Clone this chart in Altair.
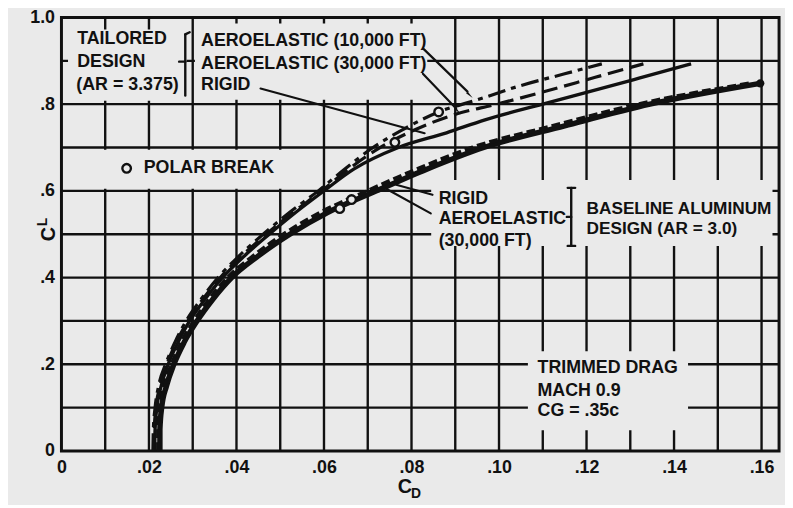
import altair as alt
import pandas as pd

INK = "#111111"
PAPER = "#eaeaea"
FONT = "Liberation Sans"

# ---------------- axes / grid ----------------
x_ticks = [0, 0.02, 0.04, 0.06, 0.08, 0.10, 0.12, 0.14, 0.16]
y_ticks = [0, 0.2, 0.4, 0.6, 0.8, 1.0]
grid_cd = [0.01, 0.02, 0.03, 0.04, 0.05, 0.06, 0.07, 0.08, 0.09, 0.10,
           0.11, 0.12, 0.13, 0.14, 0.15, 0.16]
grid_cl = [0.1, 0.2, 0.3, 0.4, 0.5, 0.6, 0.7, 0.8, 0.9]

# ---------------- drag polars (CD vs CL) ----------------
base_rigid_cl = [0, 0.05, 0.10, 0.15, 0.20, 0.25, 0.30, 0.35, 0.40, 0.45,
                 0.50, 0.55, 0.60, 0.65, 0.70, 0.75, 0.80, 0.848]
base_rigid_cd = [0.0225, 0.0225, 0.0229, 0.0240, 0.0257, 0.0280, 0.0310, 0.0346,
                 0.0389, 0.0450, 0.0522, 0.0608, 0.0720, 0.0835, 0.0965, 0.1150,
                 0.1345, 0.1597]
base_aero_cl = base_rigid_cl
base_aero_cd = [0.0221, 0.0221, 0.0225, 0.0235, 0.0252, 0.0274, 0.0303, 0.0338,
                0.0380, 0.0439, 0.0508, 0.0592, 0.0700, 0.0813, 0.0940, 0.1125,
                0.1320, 0.1575]

tail_rigid_cl = [0, 0.05, 0.10, 0.15, 0.20, 0.25, 0.30, 0.35, 0.40, 0.45, 0.50,
                 0.55, 0.60, 0.65, 0.70, 0.734, 0.764, 0.80, 0.827, 0.86, 0.893]
tail_rigid_cd = [0.0213, 0.0214, 0.0218, 0.0228, 0.0244, 0.0266, 0.0293, 0.0328,
                 0.0368, 0.0418, 0.0475, 0.0535, 0.0600, 0.0668, 0.0770, 0.0880,
                 0.0968, 0.1100, 0.1200, 0.1320, 0.1439]
tail_30k_cl = [0, 0.05, 0.10, 0.15, 0.20, 0.25, 0.30, 0.35, 0.40, 0.45, 0.50,
               0.55, 0.60, 0.65, 0.70, 0.735, 0.775, 0.80, 0.828, 0.862, 0.893]
tail_30k_cd = [0.0211, 0.0212, 0.0216, 0.0225, 0.0241, 0.0262, 0.0289, 0.0323,
               0.0363, 0.0412, 0.0468, 0.0529, 0.0595, 0.0656, 0.0728, 0.0795,
               0.0895, 0.0995, 0.1100, 0.1220, 0.1330]
tail_10k_cl = [0, 0.05, 0.10, 0.15, 0.20, 0.25, 0.30, 0.35, 0.40, 0.45, 0.50,
               0.55, 0.60, 0.65, 0.70, 0.74, 0.782, 0.81, 0.843, 0.87, 0.893]
tail_10k_cd = [0.0209, 0.0210, 0.0214, 0.0222, 0.0238, 0.0259, 0.0285, 0.0319,
               0.0358, 0.0406, 0.0461, 0.0521, 0.0587, 0.0647, 0.0712, 0.0778,
               0.0862, 0.0950, 0.1050, 0.1150, 0.1235]

# polar-break symbols (last one is the legend symbol)
break_cd = [0.0862, 0.0762, 0.0663, 0.0636, 0.0149]
break_cl = [0.782, 0.712, 0.580, 0.559, 0.652]
end_dot_cd = [0.1597]
end_dot_cl = [0.848]

# ---------------- annotation boxes (paper-coloured masks) ----------------
mask_cd = [0.0015, 0.0305, 0.0015, 0.0845, 0.1066]
mask_cd2 = [0.0286, 0.0836, 0.0545, 0.1625, 0.1432]
mask_cl = [0.808, 0.810, 0.605, 0.473, 0.048]
mask_cl2 = [0.972, 0.986, 0.695, 0.625, 0.230]

# leader lines and brace strokes
seg_cd = [0.0828, 0.0826, 0.0455, 0.0848, 0.0844,
          0.0283, 0.0283, 0.0283, 0.1165, 0.1157, 0.1157, 0.1165]
seg_cl = [0.927, 0.870, 0.836, 0.591, 0.548,
          0.961, 0.898, 0.961, 0.607, 0.607, 0.473, 0.540]
seg_cd2 = [0.0928, 0.0902, 0.0830, 0.0765, 0.0742,
           0.0283, 0.0269, 0.0293, 0.1165, 0.1174, 0.1174, 0.1155]
seg_cl2 = [0.829, 0.790, 0.733, 0.614, 0.605,
           0.820, 0.898, 0.966, 0.473, 0.607, 0.473, 0.540]
seg_w = [2.2, 2.2, 2.2, 2.2, 2.2, 2.4, 2.4, 2.4, 2.4, 2.4, 2.4, 2.4]

arrow_cd = [0.0931, 0.0904]
arrow_cl = [0.823, 0.786]
arrow_angle = [134, 137]

# ---------------- texts ----------------
text_labels = ["TAILORED", "DESIGN", "(AR = 3.375)",
               "AEROELASTIC (10,000 FT)", "AEROELASTIC (30,000 FT)", "RIGID",
               "POLAR BREAK",
               "RIGID", "AEROELASTIC", "(30,000 FT)",
               "BASELINE ALUMINUM", "DESIGN (AR = 3.0)",
               "TRIMMED DRAG", "MACH 0.9", "CG = .35c"]
text_cd = [0.0036, 0.0036, 0.0034,
           0.0319, 0.0319, 0.0319,
           0.0188,
           0.0862, 0.0862, 0.0862,
           0.1200, 0.1200,
           0.1088, 0.1088, 0.1088]
text_cl = [0.950, 0.898, 0.845,
           0.945, 0.893, 0.843,
           0.652,
           0.582, 0.536, 0.484,
           0.559, 0.511,
           0.191, 0.139, 0.091]
text_size = [18, 18, 18,
             18, 18, 18,
             18,
             18, 18, 18,
             17.4, 17.4,
             18, 18, 18]

title_text = ["C", "L", "C", "D"]
title_cd = [-0.0029, -0.0043, 0.0785, 0.0810]
title_cl = [0.500, 0.528, -0.084, -0.100]
title_size = [20, 14, 20, 14]
title_angle = [270, 270, 0, 0]

# ---------------- build chart ----------------
xscale = alt.Scale(domain=[0, 0.164], nice=False, zero=False)
yscale = alt.Scale(domain=[0, 1.0], nice=False, zero=False)

X = alt.X("cd:Q", scale=xscale, title="",
          axis=alt.Axis(values=x_ticks, grid=False, ticks=False, domain=False,
                        labelExpr="datum.value == 0 ? '0' : replace(format(datum.value, '.2f'), '0.', '.')",
                        labelFont=FONT, labelFontWeight="bold", labelFontSize=18,
                        labelColor=INK, labelPadding=8, labelFlush=False))
Y = alt.Y("cl:Q", scale=yscale, title="",
          axis=alt.Axis(values=y_ticks, grid=False, ticks=False, domain=False,
                        labelExpr="datum.value == 0 ? '0' : (datum.value == 1 ? '1.0' : replace(format(datum.value, '.1f'), '0.', '.'))",
                        labelFont=FONT, labelFontWeight="bold", labelFontSize=18,
                        labelColor=INK, labelPadding=7, labelFlush=False))


def series(cd, cl):
    return pd.DataFrame({"cd": cd, "cl": cl, "i": list(range(len(cd)))})


vgrid = alt.Chart(pd.DataFrame({"cd": grid_cd})).mark_rule(
    color=INK, strokeWidth=2.4).encode(x=X)
hgrid = alt.Chart(pd.DataFrame({"cl": grid_cl})).mark_rule(
    color=INK, strokeWidth=2.4).encode(y=Y)

masks = alt.Chart(pd.DataFrame({"cd": mask_cd, "cd2": mask_cd2,
                                "cl": mask_cl, "cl2": mask_cl2})).mark_rect(
    color=PAPER, opacity=1).encode(x=X, x2="cd2:Q", y=Y, y2="cl2:Q")


def curve(cd, cl, width, dash=None):
    kw = dict(color=INK, strokeWidth=width, strokeCap="butt", strokeJoin="round",
              interpolate="monotone")
    if dash:
        kw["strokeDash"] = dash
    return alt.Chart(series(cd, cl)).mark_line(**kw).encode(
        x=X, y=Y, order=alt.Order("i:Q"))


c_base_rigid = curve(base_rigid_cd, base_rigid_cl, 5.5)
c_base_aero = curve(base_aero_cd, base_aero_cl, 4.2, [9, 4])
c_tail_rigid = curve(tail_rigid_cd, tail_rigid_cl, 3.4)
c_tail_30k = curve(tail_30k_cd, tail_30k_cl, 3.2, [16, 7])
c_tail_10k = curve(tail_10k_cd, tail_10k_cl, 3.2, [18, 6, 5, 6])

segs = alt.Chart(pd.DataFrame({"cd": seg_cd, "cl": seg_cl, "cd2": seg_cd2,
                               "cl2": seg_cl2, "w": seg_w})).mark_rule(
    color=INK, strokeCap="round").encode(
    x=X, y=Y, x2="cd2:Q", y2="cl2:Q",
    strokeWidth=alt.StrokeWidth("w:Q", scale=None, legend=None))

arrows = alt.Chart(pd.DataFrame({"cd": arrow_cd, "cl": arrow_cl,
                                 "a": arrow_angle})).mark_point(
    shape="wedge", filled=True, color=INK, size=90, opacity=1).encode(
    x=X, y=Y, angle=alt.Angle("a:Q", scale=None))

breaks = alt.Chart(series(break_cd, break_cl)).mark_point(
    shape="circle", filled=True, fill=PAPER, stroke=INK, strokeWidth=2.4,
    size=75, opacity=1).encode(x=X, y=Y)

end_dot = alt.Chart(series(end_dot_cd, end_dot_cl)).mark_point(
    shape="circle", filled=True, color=INK, size=70, opacity=1).encode(x=X, y=Y)

texts = alt.Chart(pd.DataFrame({"cd": text_cd, "cl": text_cl, "s": text_size,
                                "t": text_labels})).mark_text(
    align="left", baseline="middle", font=FONT, fontWeight="bold",
    color=INK).encode(x=X, y=Y, text="t:N",
                      size=alt.Size("s:Q", scale=None, legend=None))

titles = alt.Chart(pd.DataFrame({"cd": title_cd, "cl": title_cl, "t": title_text,
                                 "s": title_size, "a": title_angle})).mark_text(
    align="center", baseline="middle", font=FONT, fontWeight="bold",
    color=INK).encode(x=X, y=Y, text="t:N",
                      size=alt.Size("s:Q", scale=None, legend=None),
                      angle=alt.Angle("a:Q", scale=None))

chart = alt.layer(
    vgrid, hgrid, masks,
    c_base_rigid, c_base_aero, c_tail_rigid, c_tail_30k, c_tail_10k,
    segs, arrows, breaks, end_dot, texts, titles
).properties(
    width=725, height=438,
    autosize=alt.AutoSizeParams(type="none"),
    padding={"left": 54, "top": 7, "right": 6, "bottom": 52},
    background=PAPER,
).configure_view(
    stroke=INK, strokeWidth=3, fill=PAPER
)

chart.save("out.html", embed_options={"renderer": "svg", "actions": False})
